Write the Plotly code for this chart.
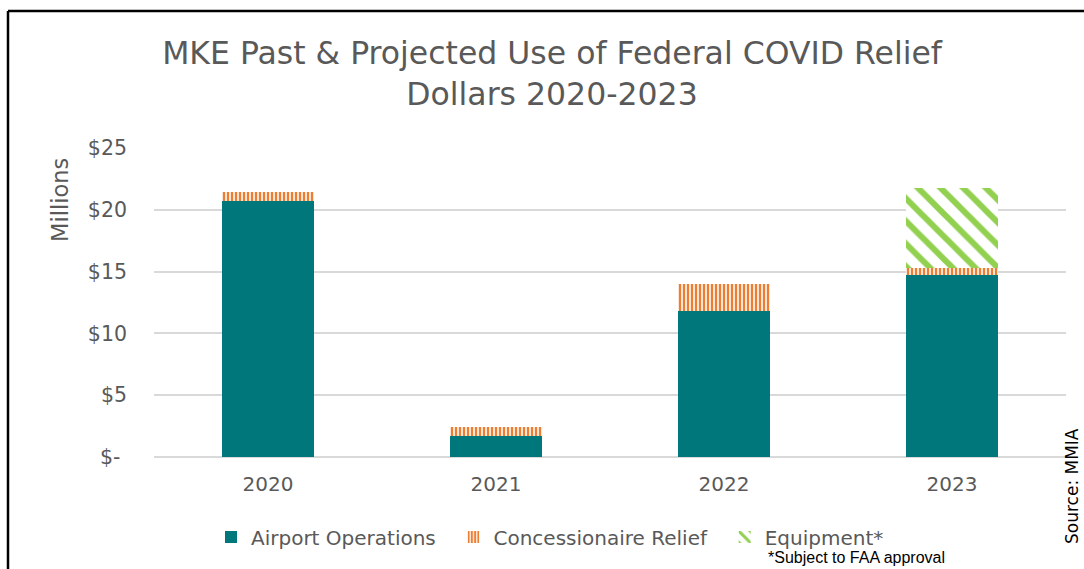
import plotly.graph_objects as go

# Federal COVID relief spending by year, in millions of dollars
years = ["2020", "2021", "2022", "2023"]
airport_operations = [20.7, 1.7, 11.8, 14.7]
concessionaire_relief = [0.75, 0.73, 2.2, 0.6]
equipment = [0, 0, 0, 6.5]

y_ticks = [0, 5, 10, 15, 20, 25]
y_tick_labels = ["$-\u00a0", "$5", "$10", "$15", "$20", "$25"]

# legend labels carry a little trailing space to widen the entry spacing
series_names = [
    "Airport Operations\u00a0\u00a0",
    "Concessionaire Relief\u00a0\u00a0",
    "Equipment*",
]

W, H = 1084, 569
ML, MR, MT, MB = 154, 18, 148, 112
PW, PH = W - ML - MR, H - MT - MB

TEXT = "#595959"
FONT = "DejaVu Sans"


def px_x(px):
    return (px - ML) / PW


def px_y(py):
    return (H - MB - py) / PH


fig = go.Figure()
fig.add_trace(go.Bar(
    x=years, y=airport_operations, name=series_names[0],
    marker=dict(color="#00777B", line=dict(width=0)),
))
fig.add_trace(go.Bar(
    x=years, y=concessionaire_relief, name=series_names[1],
    marker=dict(color="white", line=dict(width=0),
                pattern=dict(shape="|", fgcolor="#ED7D31", bgcolor="white",
                             fgopacity=1, size=4, solidity=0.6,
                             fillmode="replace")),
))
fig.add_trace(go.Bar(
    x=years, y=equipment, name=series_names[2],
    marker=dict(color="white", line=dict(width=0),
                pattern=dict(shape="\\", fgcolor="#92D050", bgcolor="white",
                             fgopacity=1, size=16, solidity=0.38,
                             fillmode="replace")),
))

fig.update_layout(
    width=W, height=H,
    margin=dict(l=ML, r=MR, t=MT, b=MB),
    barmode="stack", bargap=0.6,
    paper_bgcolor="white", plot_bgcolor="white",
    font=dict(family=FONT, color=TEXT, size=20),
    title=dict(
        text="MKE Past & Projected Use of Federal COVID Relief<br>Dollars 2020-2023",
        x=552 / W, xanchor="center", xref="container",
        y=1 - 64 / H, yanchor="top", yref="container",
        font=dict(family=FONT, size=31.5, color=TEXT),
    ),
    xaxis=dict(
        showgrid=False, showline=False, zeroline=False,
        tickfont=dict(size=20, color=TEXT), ticklabelstandoff=13,
    ),
    yaxis=dict(
        range=[0, 25], tickvals=y_ticks, ticktext=y_tick_labels,
        showgrid=True, gridcolor="#D9D9D9", gridwidth=1.5,
        zeroline=True, zerolinecolor="#D9D9D9", zerolinewidth=1.5,
        showline=False, tickfont=dict(size=20.5, color=TEXT),
        ticklabelstandoff=26,
    ),
    legend=dict(
        orientation="h", x=px_x(211), xanchor="left",
        y=px_y(537), yanchor="middle",
        font=dict(size=20, color=TEXT), itemwidth=30,
        traceorder="normal",
    ),
    showlegend=True,
)

fig.add_annotation(
    text="Millions", textangle=-90, showarrow=False,
    xref="paper", yref="paper", x=px_x(60), y=px_y(200),
    xanchor="center", yanchor="middle",
    font=dict(size=22.5, color=TEXT, family=FONT),
)
fig.add_annotation(
    text="*Subject to FAA approval", showarrow=False,
    xref="paper", yref="paper", x=px_x(856), y=px_y(557),
    xanchor="center", yanchor="middle",
    font=dict(size=16, color="black", family="Liberation Sans"),
)
fig.add_annotation(
    text="Source: MMIA", textangle=-90, showarrow=False,
    xref="paper", yref="paper", x=px_x(1072), y=px_y(486),
    xanchor="center", yanchor="middle",
    font=dict(size=17, color="black", family="DejaVu Sans"),
)

# Frame along the top and left edges
fig.add_shape(type="line", xref="paper", yref="paper",
              x0=px_x(8), y0=px_y(11), x1=px_x(W + 5), y1=px_y(11),
              line=dict(color="black", width=2.5))
fig.add_shape(type="line", xref="paper", yref="paper",
              x0=px_x(8), y0=px_y(11), x1=px_x(8), y1=px_y(H + 5),
              line=dict(color="black", width=2.5))

fig.write_html("out.html")
